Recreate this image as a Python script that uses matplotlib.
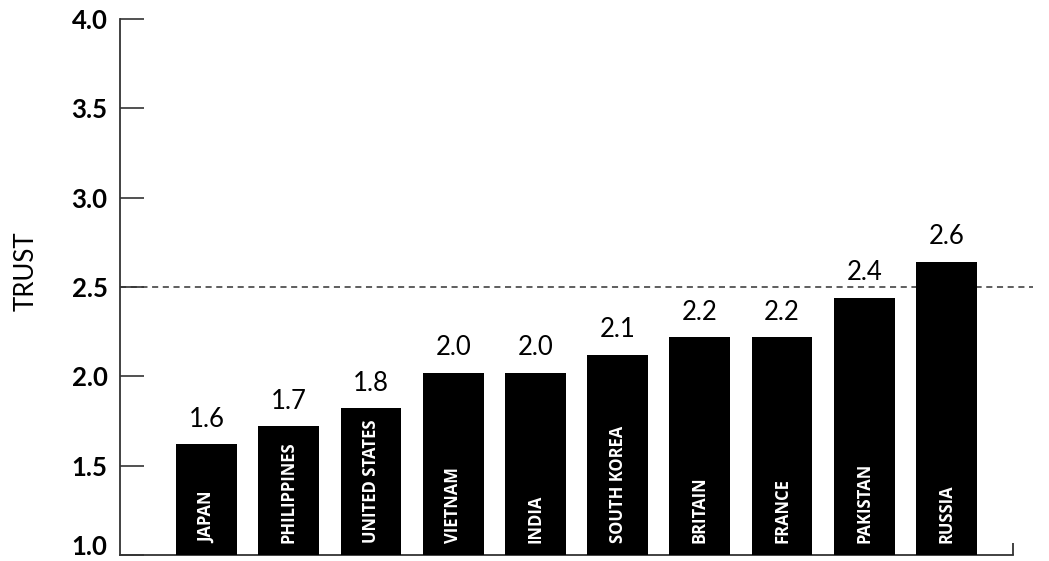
import matplotlib.pyplot as plt
import matplotlib.transforms as mtransforms
import numpy as np

plt.rcParams['font.family'] = ['Lato', 'DejaVu Sans']

countries = ['JAPAN', 'PHILIPPINES', 'UNITED STATES', 'VIETNAM', 'INDIA',
             'SOUTH KOREA', 'BRITAIN', 'FRANCE', 'PAKISTAN', 'RUSSIA']
trust = [1.62, 1.72, 1.82, 2.02, 2.02, 2.12, 2.22, 2.22, 2.44, 2.64]
yticks = [1.0, 1.5, 2.0, 2.5, 3.0, 3.5, 4.0]
ref_level = 2.5

fig = plt.figure(figsize=(10.49, 5.61), dpi=100)
ax = fig.add_axes([0.1144, 0.0107, 0.8512, 0.9554])

x = np.arange(len(countries))
ax.bar(x, np.array(trust) - 1.0, bottom=1.0, width=0.74, color='black', zorder=3)

for i in range(len(countries)):
    ax.text(x[i], trust[i] + 0.07, '%.1f' % trust[i], ha='center', va='bottom',
            fontsize=18.5, color='black')
    ax.text(x[i], 1.065, countries[i], rotation=90, ha='center', va='bottom',
            fontsize=12, fontweight='bold', color='white', family=['Open Sans', 'DejaVu Sans'],
            zorder=4)

ax.axhline(ref_level, xmin=0, xmax=1.023, color='#333333', linewidth=1.1,
           linestyle=(0, (4, 3)), clip_on=False, zorder=1)

ax.set_xlim(-1.053, 9.809)
ax.set_ylim(1.0, 4.0)

for s in ['top', 'right']:
    ax.spines[s].set_visible(False)
for s in ['left', 'bottom']:
    ax.spines[s].set_color('#333333')
    ax.spines[s].set_linewidth(1.3)

ax.set_yticks(yticks)
ax.set_yticklabels(['%.1f' % v for v in yticks], fontsize=18.5, fontweight='bold')
ax.tick_params(axis='y', direction='in', length=17, width=1.2, color='#333333', pad=9)
# lowest label sits a little higher so it stays inside the picture
lab0 = ax.get_yticklabels()[0]
lab0.set_transform(lab0.get_transform() +
                   mtransforms.ScaledTranslation(0, 7 / 72, fig.dpi_scale_trans))

ax.set_xticks([ax.get_xlim()[1]])
ax.set_xticklabels([])
ax.tick_params(axis='x', direction='in', length=9, width=1.3, color='#333333')

ax.set_ylabel('TRUST', fontsize=18.5)
ax.yaxis.set_label_coords(-0.091, 0.53)

plt.savefig('out.png', dpi=100)
